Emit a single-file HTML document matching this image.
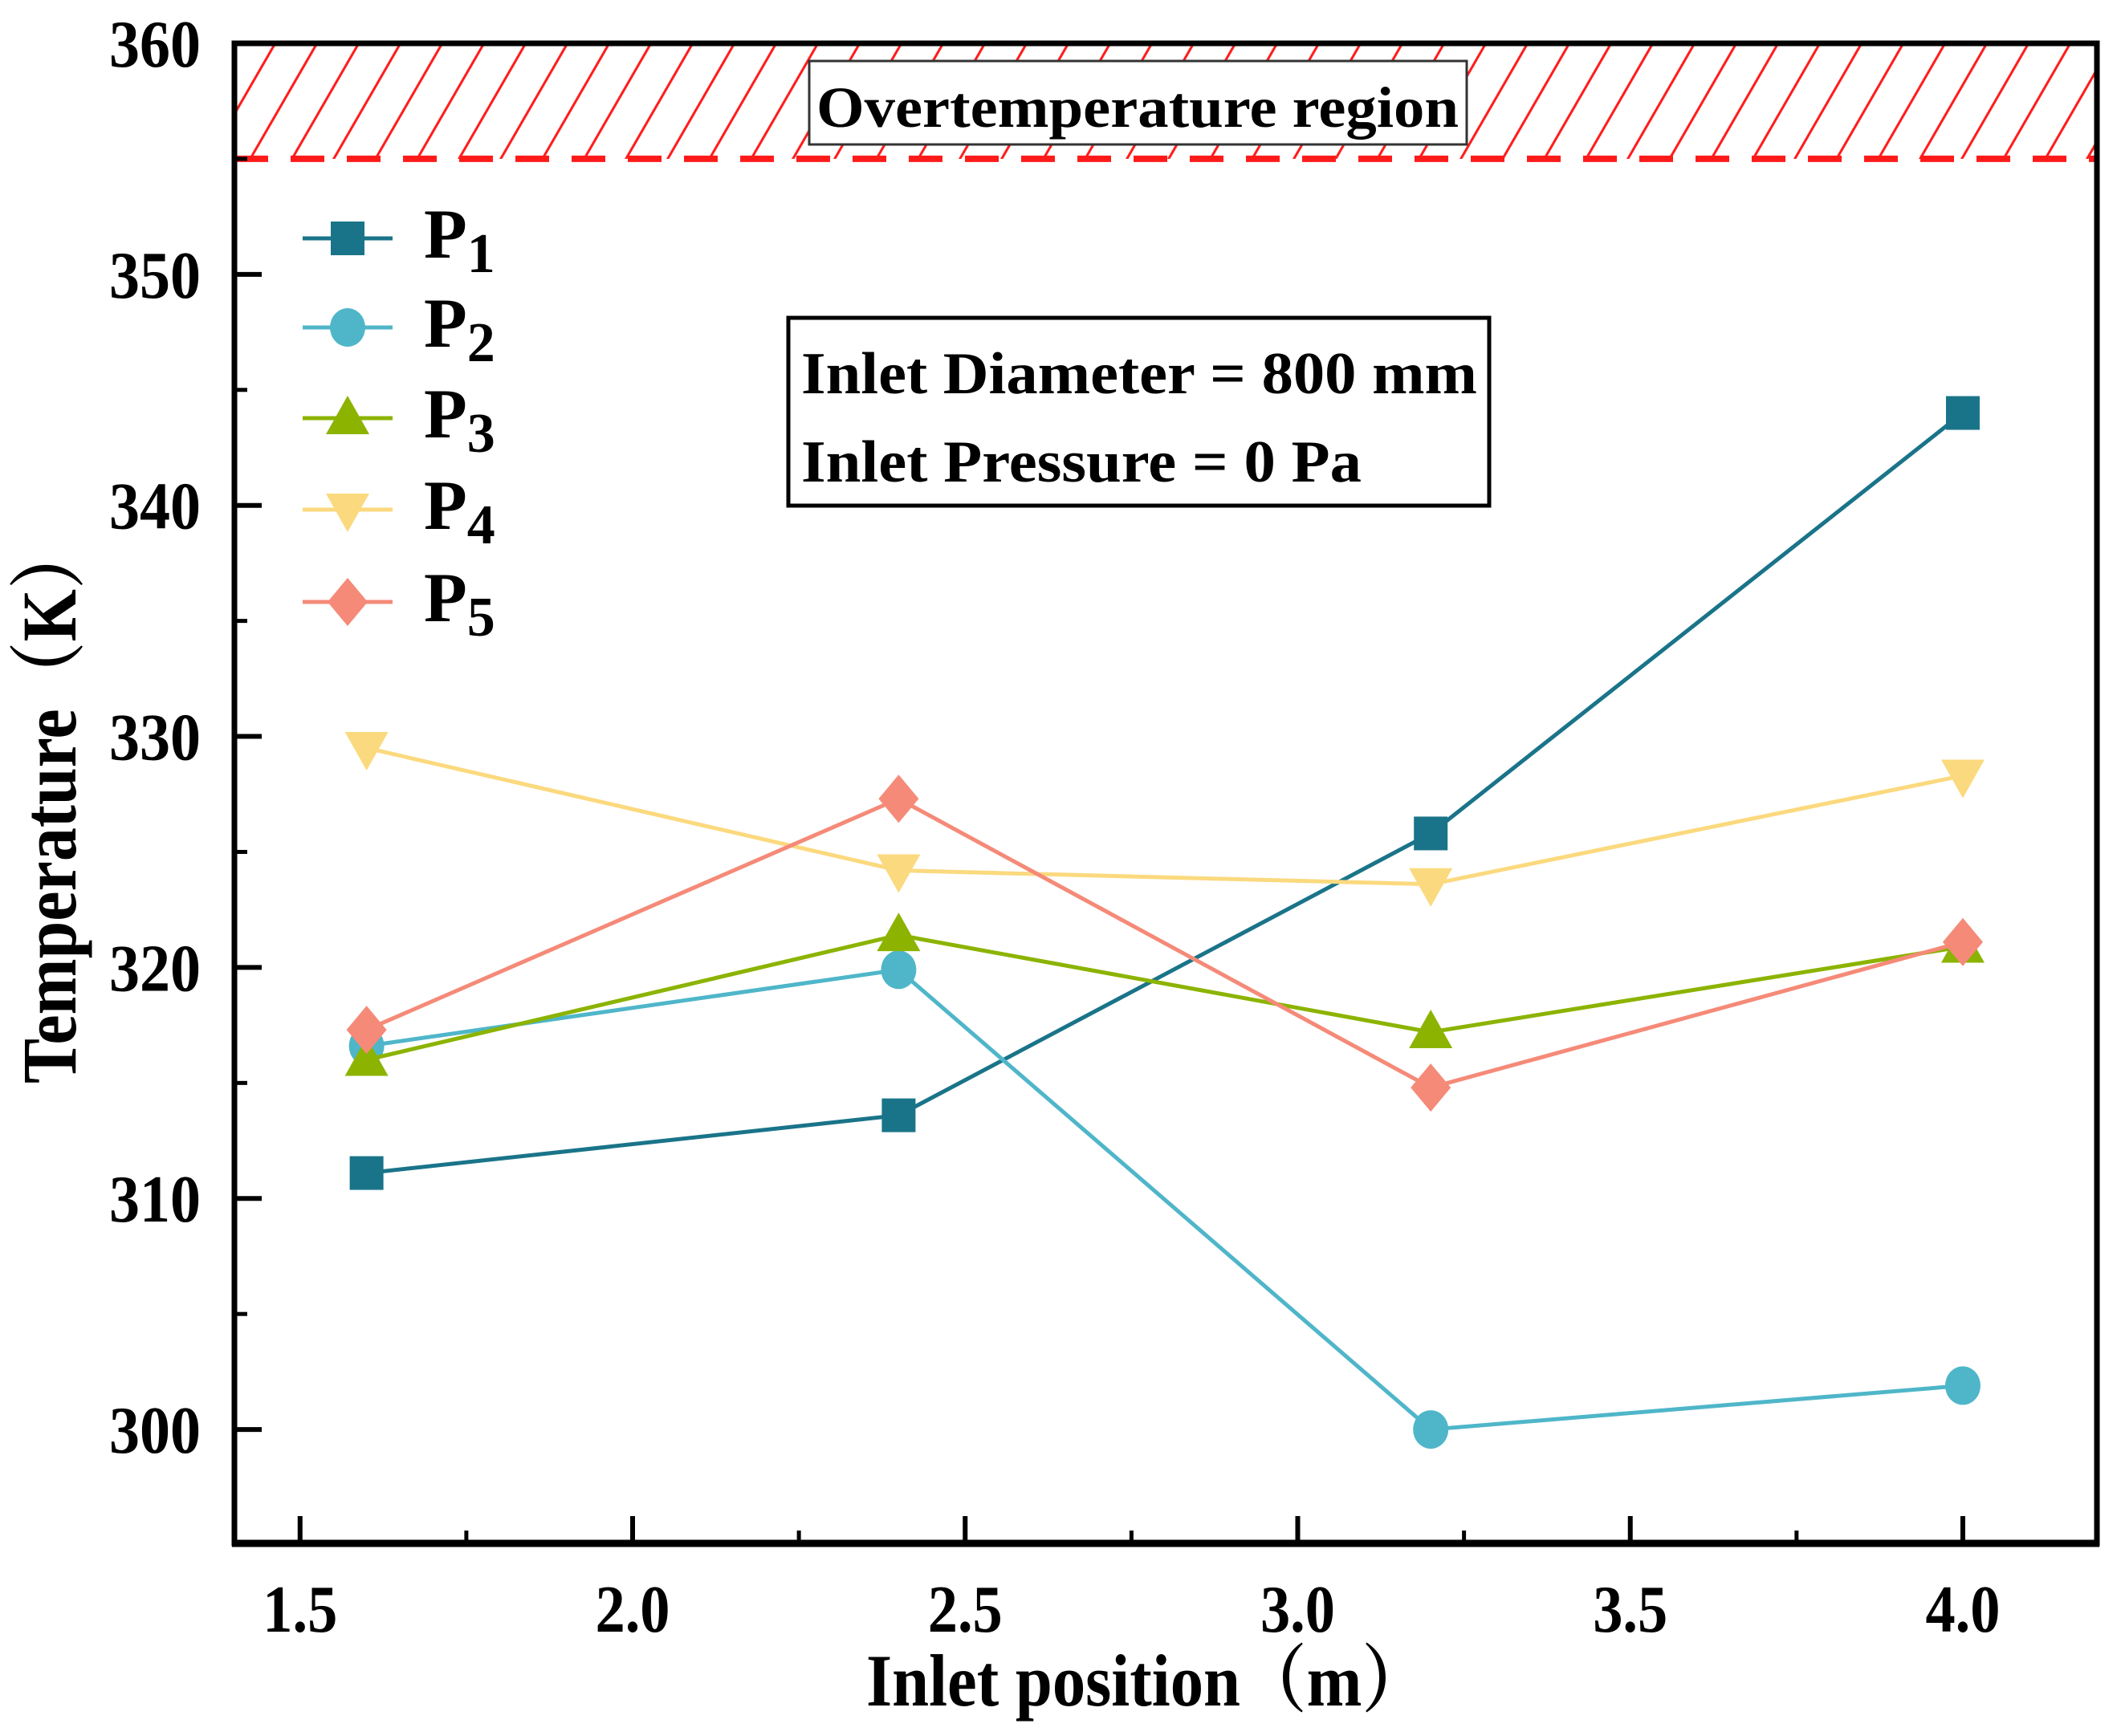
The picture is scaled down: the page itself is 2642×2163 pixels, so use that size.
<!DOCTYPE html>
<html><head><meta charset="utf-8"><style>
html,body{margin:0;padding:0;background:#fff;}
svg{display:block;font-family:"Liberation Serif","Noto Serif CJK SC",serif;font-weight:bold;}
</style></head><body>
<svg id="chart" width="2642" height="2163" viewBox="0 0 2642 2163" xmlns="http://www.w3.org/2000/svg">
<defs>
<pattern id="hatch" patternUnits="userSpaceOnUse" width="52" height="200" patternTransform="skewX(-30)">
<line x1="10" y1="0" x2="10" y2="200" stroke="#ff1a1a" stroke-width="3.5"/>
</pattern>
<clipPath id="plotclip"><rect x="292" y="54" width="2320" height="1869"/></clipPath>
</defs>
<g id="hatchg"></g>
<g id="series" clip-path="url(#plotclip)"></g>
<g id="axes"></g>
<rect x="1008" y="76" width="819" height="104" fill="#fff" stroke="#333" stroke-width="3"/>
<text x="1417" y="158" font-size="72" text-anchor="middle" textLength="800" lengthAdjust="spacingAndGlyphs">Overtemperature region</text>
<rect x="982" y="396" width="873" height="234" fill="#fff" stroke="#000" stroke-width="5"/>
<text x="998" y="490" font-size="74" textLength="842" lengthAdjust="spacingAndGlyphs">Inlet Diameter = 800 mm</text>
<text x="998" y="600" font-size="74" textLength="698" lengthAdjust="spacingAndGlyphs">Inlet Pressure = 0 Pa</text>
<g id="legend"></g>
<text x="1429" y="2125" font-size="92" text-anchor="middle" textLength="700" lengthAdjust="spacingAndGlyphs">Inlet position（m）</text>
<text transform="translate(94,1000) rotate(-90)" font-size="96" text-anchor="middle" textLength="700" lengthAdjust="spacingAndGlyphs">Temperature（K）</text>
</svg>
<script>
const xValues = [1.6, 2.4, 3.2, 4.0];
const seriesNames = ["P1","P2","P3","P4","P5"];
const p1 = [311.1, 313.6, 325.8, 344.0];
const p2 = [316.6, 319.9, 300.0, 301.9];
const p3 = [316.0, 321.4, 317.2, 320.9];
const p4 = [329.5, 324.2, 323.6, 328.3];
const p5 = [317.3, 327.3, 314.8, 321.1];
const xTicks = ["1.5","2.0","2.5","3.0","3.5","4.0"];
const yTicks = ["300","310","320","330","340","350","360"];
const limitTemp = 355;

const NS = "http://www.w3.org/2000/svg";
const L=292,R=2612,T=54,B=1923;
const xMin=1.4013,xMax=4.2016,yMin=295.07,yMax=360;
const xs=v=>L+(v-xMin)/(xMax-xMin)*(R-L);
const ys=v=>T+(yMax-v)/(yMax-yMin)*(B-T);
function mk(tag,attrs,parent){const e=document.createElementNS(NS,tag);for(const k in attrs)e.setAttribute(k,attrs[k]);parent.appendChild(e);return e;}
const colors=["#1a7489","#4fb6c9","#8cb300","#fbd97e","#f58a78"];
const shapes=["square","circle","up","down","diamond"];
const allData=[p1,p2,p3,p4,p5];

const hg=document.getElementById('hatchg');
const hr=mk('rect',{x:L,y:T,width:R-L,height:ys(limitTemp)-T,fill:'url(#hatch)'},hg);


const dl=mk('line',{x1:L,x2:R,y1:ys(limitTemp),y2:ys(limitTemp),stroke:'#ff1a1a','stroke-width':8,'stroke-dasharray':'42 28'},hg);



function marker(shape,cx,cy,c,parent){
  let e;
  if(shape==='square') e=mk('rect',{x:cx-21,y:cy-21,width:42,height:42,fill:c},parent);
  else if(shape==='circle') e=mk('ellipse',{cx:cx,cy:cy,rx:22,ry:24,fill:c},parent);
  else if(shape==='up') e=mk('polygon',{points:`${cx},${cy-28} ${cx-27},${cy+20} ${cx+27},${cy+20}`,fill:c},parent);
  else if(shape==='down') e=mk('polygon',{points:`${cx},${cy+28} ${cx-27},${cy-20} ${cx+27},${cy-20}`,fill:c},parent);
  else e=mk('polygon',{points:`${cx},${cy-30} ${cx+25},${cy} ${cx},${cy+30} ${cx-25},${cy}`,fill:c},parent);
  return e;
}
const sg=document.getElementById('series');
allData.forEach((d,i)=>{
  const g=mk('g',{},sg);
  
  
  const pl=mk('polyline',{points:d.map((v,j)=>xs(xValues[j])+','+ys(v)).join(' '),fill:'none',stroke:colors[i],'stroke-width':5},g);
  
  
  d.forEach((v,j)=>{
    const m=marker(shapes[i],xs(xValues[j]),ys(v),colors[i],g);
    
    
  });
});

const ag=document.getElementById('axes');
const frame=mk('rect',{x:L,y:T,width:R-L,height:B-T,fill:'none',stroke:'#000','stroke-width':7},ag);


const bx=mk('line',{x1:L-3,x2:R+3,y1:B,y2:B,stroke:'#000','stroke-width':9},ag);


xTicks.forEach((t,i)=>{
  const v=parseFloat(t);const x=xs(v);
  const tk=mk('line',{x1:x,x2:x,y1:B,y2:B-34,stroke:'#000','stroke-width':6},ag);
  
  
  const lb=mk('text',{x:x,y:B+110,'font-size':84,'text-anchor':'middle',textLength:93,lengthAdjust:'spacingAndGlyphs'},ag);lb.textContent=t;
  
  
  if(i<xTicks.length-1){const mx=xs(v+0.25);
    const mt=mk('line',{x1:mx,x2:mx,y1:B,y2:B-16,stroke:'#000','stroke-width':5},ag);
    
    }
});
yTicks.forEach((t,i)=>{
  const v=parseFloat(t);const y=ys(v);
  const tk=mk('line',{x1:L,x2:L+34,y1:y,y2:y,stroke:'#000','stroke-width':6},ag);
  
  
  const lb=mk('text',{x:L-42,y:y+29,'font-size':84,'text-anchor':'end',textLength:114,lengthAdjust:'spacingAndGlyphs'},ag);lb.textContent=t;
  
  
  const mv=v-5;
  if(mv>yMin){const my=ys(mv);
    const mt=mk('line',{x1:L,x2:L+16,y1:my,y2:my,stroke:'#000','stroke-width':5},ag);
    
    }
});

const lg=document.getElementById('legend');
const legY=[297,408,521,635,750];
seriesNames.forEach((n,i)=>{
  const g=mk('g',{},lg);
  
  
  const y=legY[i];
  mk('line',{x1:377,x2:489,y1:y,y2:y,stroke:colors[i],'stroke-width':5},g);
  marker(shapes[i],433,y,colors[i],g);
  const tx=mk('text',{x:528,y:y+24,'font-size':88},g);
  tx.textContent='P';
  const sub=mk('tspan',{dy:18,'font-size':70},tx);
  sub.textContent=n.slice(1);
});
</script>
</body></html>
